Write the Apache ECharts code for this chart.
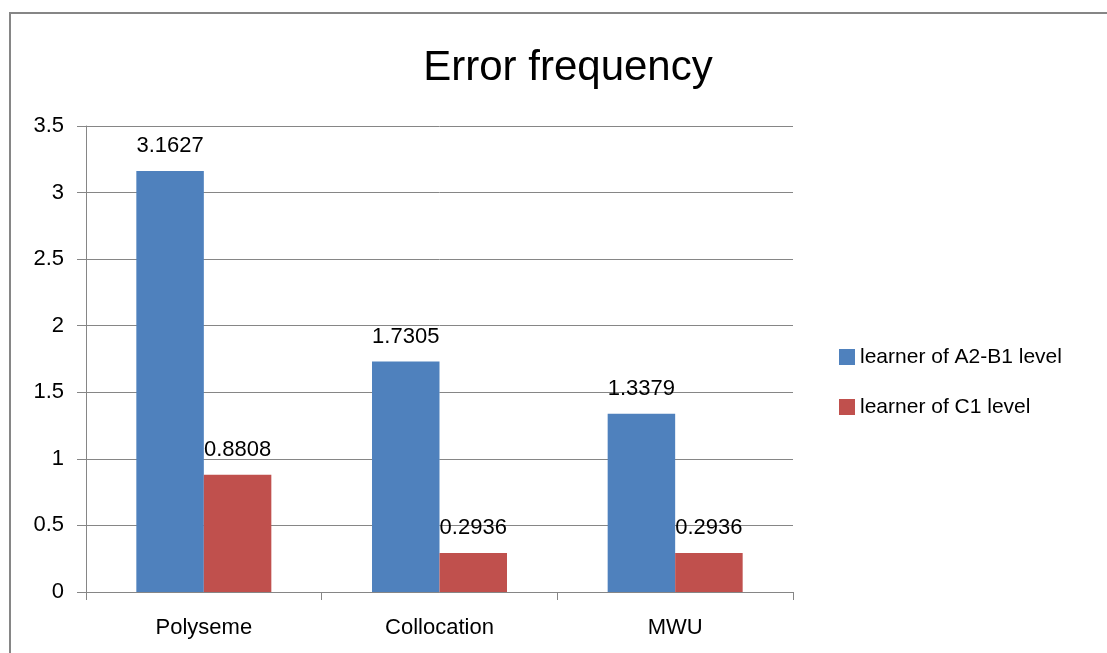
<!DOCTYPE html>
<html>
<head>
<meta charset="utf-8">
<script src="https://cdn.jsdelivr.net/npm/echarts@6/dist/echarts.min.js"></script>
<style>
  html, body { margin: 0; padding: 0; background: #fff; }
  #content_data { width: 1107px; height: 653px; }
</style>
</head>
<body>
<div id="content_data"></div>
<script>
const categories = ['Polyseme', 'Collocation', 'MWU'];
const series_A2B1 = [3.1627, 1.7305, 1.3379];
const series_C1 = [0.8808, 0.2936, 0.2936];
const series_names = ['learner of A2-B1 level', 'learner of C1 level'];
const colors = ['#4F81BD', '#C0504D'];

const FONT = "'Liberation Sans', Arial, sans-serif";

const Chart = echarts.init(document.getElementById('content_data'));

const labelStyle = {
    show: true,
    position: 'top',
    distance: 14,
    color: '#000',
    fontSize: 22,
    fontFamily: FONT,
    formatter: (p) => p.value.toFixed(4)
};

Chart.setOption({
    animation: false,
    title: {
        text: 'Error frequency',
        left: 563,
        top: 42,
        textAlign: 'center',
        textStyle: {
            fontSize: 42,
            fontWeight: 'normal',
            color: '#000',
            fontFamily: FONT
        }
    },
    graphic: [
        {
            type: 'rect',
            shape: { x: 10, y: 13, width: 1120, height: 680 },
            style: { fill: 'none', stroke: '#868686', lineWidth: 2 },
            silent: true
        }
    ],
    legend: {
        orient: 'vertical',
        left: 834,
        top: 341,
        itemWidth: 16,
        itemHeight: 16,
        itemGap: 28,
        icon: 'rect',
        textStyle: {
            fontSize: 21,
            lineHeight: 22,
            color: '#000',
            fontFamily: FONT
        },
        data: series_names
    },
    grid: {
        left: 86,
        right: 314,
        top: 126,
        bottom: 61,
        containLabel: false
    },
    xAxis: {
        type: 'category',
        data: categories,
        boundaryGap: true,
        axisLine: { lineStyle: { color: '#868686', width: 1 } },
        axisTick: { show: true, length: 8, lineStyle: { color: '#868686' } },
        axisLabel: {
            margin: 25,
            color: '#000',
            fontSize: 22,
            fontFamily: FONT
        }
    },
    yAxis: {
        type: 'value',
        min: 0,
        max: 3.5,
        interval: 0.5,
        axisLine: { show: true, lineStyle: { color: '#868686', width: 1 } },
        axisTick: { show: true, inside: false, length: 9, lineStyle: { color: '#868686' } },
        splitLine: { lineStyle: { color: '#868686', width: 1 } },
        axisLabel: {
            margin: 22,
            color: '#000',
            fontSize: 22,
            fontFamily: FONT
        }
    },
    series: [
        {
            name: series_names[0],
            type: 'bar',
            data: series_A2B1,
            barWidth: 67.5,
            barGap: '0%',
            barCategoryGap: '42.7%',
            itemStyle: { color: colors[0] },
            label: labelStyle
        },
        {
            name: series_names[1],
            type: 'bar',
            data: series_C1,
            barWidth: 67.5,
            barGap: '0%',
            itemStyle: { color: colors[1] },
            label: labelStyle
        }
    ]
});
</script>
</body>
</html>
